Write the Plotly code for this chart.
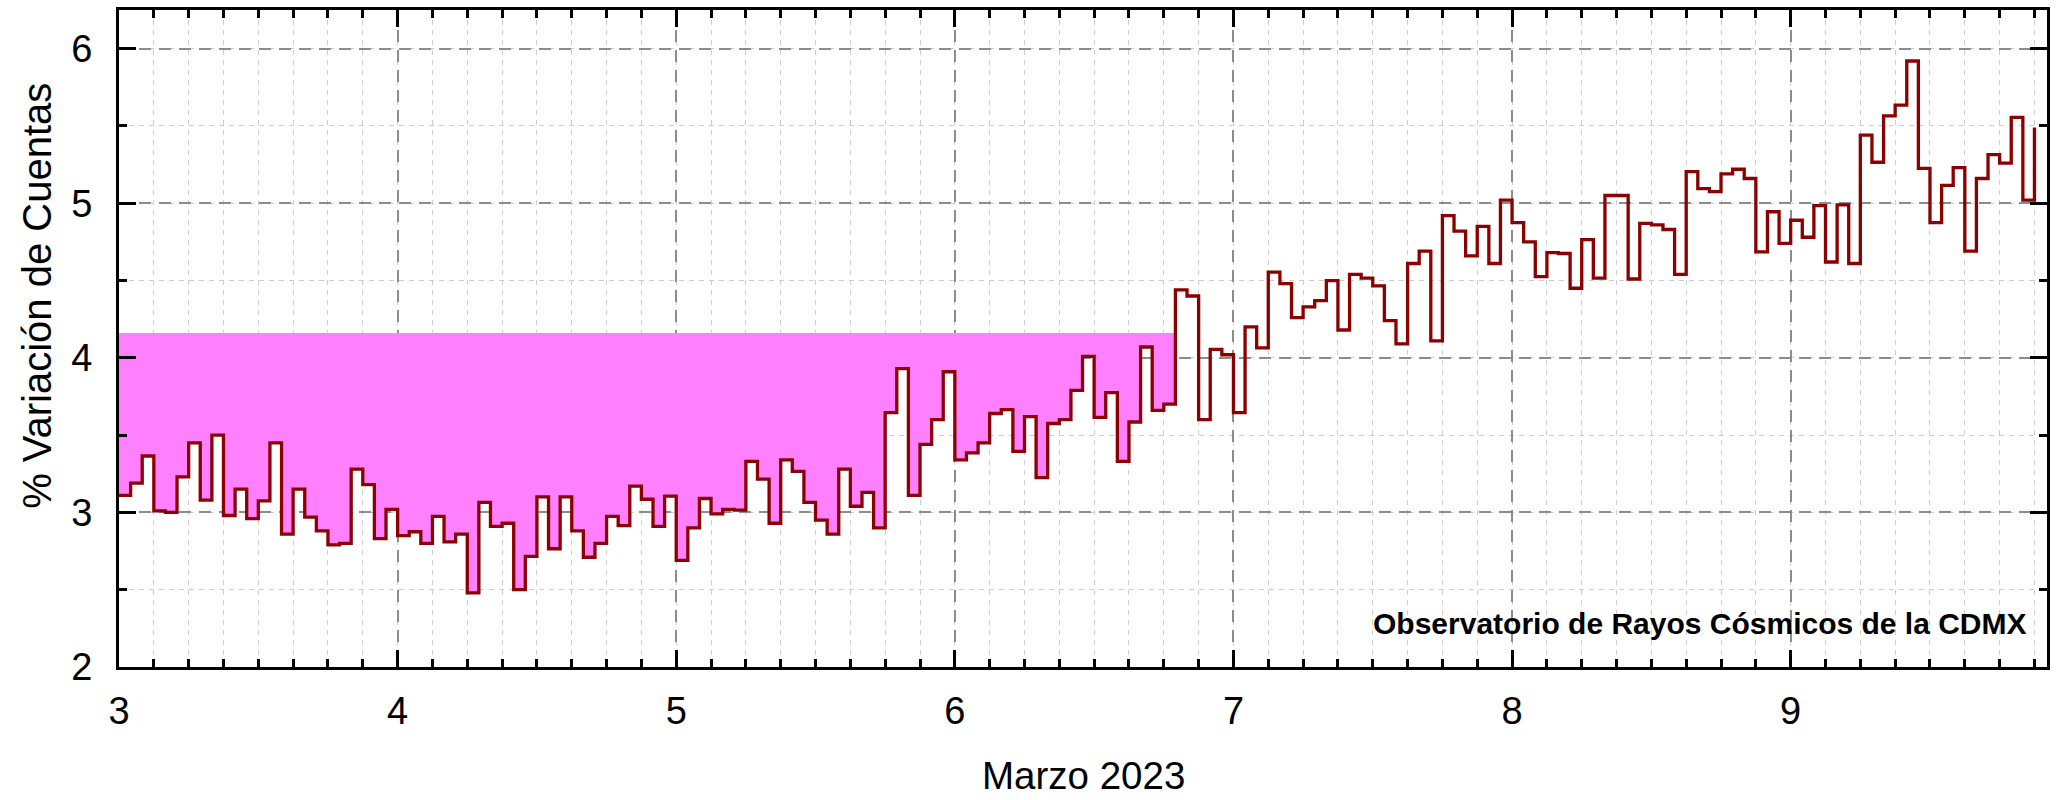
import numpy as np
import plotly.graph_objects as go

# Hourly percent variation of cosmic-ray counts, March 2023 (one list per day)
mar03 = [3.11, 3.19, 3.365, 3.01, 3.00, 3.23, 3.45, 3.08, 3.50, 2.98, 3.15, 2.96,
         3.075, 3.45, 2.86, 3.15, 2.97, 2.88, 2.79, 2.80, 3.28, 3.18, 2.83, 3.02]
mar04 = [2.85, 2.875, 2.80, 2.975, 2.81, 2.86, 2.48, 3.065, 2.91, 2.93, 2.50, 2.715,
         3.10, 2.765, 3.10, 2.88, 2.71, 2.80, 2.975, 2.915, 3.17, 3.085, 2.91, 3.105]
mar05 = [2.69, 2.90, 3.09, 2.99, 3.02, 3.015, 3.33, 3.215, 2.93, 3.34, 3.265, 3.065,
         2.95, 2.86, 3.28, 3.04, 3.13, 2.90, 3.645, 3.93, 3.11, 3.44, 3.60, 3.91]
mar06 = [3.34, 3.385, 3.45, 3.64, 3.665, 3.395, 3.62, 3.225, 3.575, 3.60, 3.79, 4.01,
         3.615, 3.775, 3.33, 3.585, 4.07, 3.66, 3.70, 4.44, 4.40, 3.60, 4.055, 4.02]
mar07 = [3.645, 4.20, 4.065, 4.555, 4.48, 4.26, 4.33, 4.37, 4.50, 4.18, 4.54, 4.515,
         4.465, 4.24, 4.09, 4.61, 4.69, 4.11, 4.92, 4.82, 4.66, 4.85, 4.61, 5.02]
mar08 = [4.875, 4.75, 4.525, 4.68, 4.675, 4.45, 4.765, 4.515, 5.05, 5.05, 4.51, 4.87,
         4.86, 4.83, 4.54, 5.205, 5.095, 5.075, 5.19, 5.22, 5.16, 4.685, 4.945, 4.74]
mar09 = [4.89, 4.78, 4.985, 4.62, 4.99, 4.61, 5.44, 5.265, 5.565, 5.635, 5.92, 5.225,
         4.875, 5.115, 5.23, 4.69, 5.16, 5.315, 5.26, 5.555, 5.02, 5.49]

first_day = 3
fd_level = 4.16          # pre-decrease level used to shade the Forbush decrease

values = mar03 + mar04 + mar05 + mar06 + mar07 + mar08 + mar09
days = first_day + np.arange(len(values)) / 24.0

x_ticks = [3, 4, 5, 6, 7, 8, 9]
y_ticks = [2, 3, 4, 5, 6]

FONT = "Liberation Sans, Arial, sans-serif"
LINE_RED = "#8b0000"
SHADE = "#ff80ff"

# Shaded region: between the step curve and the pre-decrease level,
# up to the first hour that climbs back above that level
end = next(i for i, v in enumerate(values) if v > fd_level)
path = f"M {days[0]},{fd_level}"
for i in range(end):
    path += f" L {days[i]},{values[i]} L {days[i + 1]},{values[i]}"
path += f" L {days[end]},{fd_level} Z"

fig = go.Figure()
fig.add_trace(go.Scatter(
    x=days, y=values, mode="lines", line_shape="hv",
    line=dict(color=LINE_RED, width=3.3), hoverinfo="x+y", showlegend=False,
))

fig.add_shape(type="path", path=path, xref="x", yref="y",
              fillcolor=SHADE, line=dict(width=0), layer="between")

axis_common = dict(
    showline=True, linecolor="black", linewidth=2.8, mirror="allticks",
    ticks="inside", ticklen=17, tickwidth=2.8, tickcolor="black",
    showgrid=True, gridcolor="#8c8c8c", gridwidth=2, griddash="12px,8px",
    zeroline=False,
    tickfont=dict(family=FONT, size=38, color="black"),
)

fig.update_xaxes(
    range=[3, 9.92], tickvals=x_ticks, ticktext=[str(t) for t in x_ticks],
    ticklabelstandoff=8,
    minor=dict(dtick=0.125, tick0=3, ticks="inside", ticklen=8, tickwidth=2.8,
               tickcolor="black", showgrid=True, gridcolor="#cdcdcd",
               gridwidth=1.3, griddash="5px,5px"),
    **axis_common,
)
fig.update_yaxes(
    range=[2, 6.25], tickvals=y_ticks, ticktext=[str(t) for t in y_ticks],
    ticklabelstandoff=16,
    minor=dict(dtick=0.5, tick0=2, ticks="inside", ticklen=8, tickwidth=2.8,
               tickcolor="black", showgrid=True, gridcolor="#cdcdcd",
               gridwidth=1.3, griddash="5px,5px"),
    **axis_common,
)

fig.add_annotation(
    text="% Variación de Cuentas", textangle=-90,
    xref="paper", yref="paper", x=-0.0425, y=0.565,
    xanchor="center", yanchor="middle", showarrow=False,
    font=dict(family=FONT, size=40, color="black"),
)
fig.add_annotation(
    text="Marzo 2023", xref="paper", yref="paper", x=0.5, y=-0.2,
    xanchor="center", yanchor="bottom", showarrow=False, borderpad=0,
    font=dict(family=FONT, size=38.5, color="black"),
)
fig.add_annotation(
    text="<b>Observatorio de Rayos Cósmicos de la CDMX</b>",
    xref="paper", yref="paper", x=0.9905, y=0.0665,
    xanchor="right", yanchor="middle", showarrow=False,
    font=dict(family=FONT, size=30, color="black"),
)

fig.update_layout(
    width=2058, height=800,
    margin=dict(l=119, r=11, t=7, b=133),
    paper_bgcolor="white", plot_bgcolor="white",
    showlegend=False,
)

fig.write_html("out.html")
